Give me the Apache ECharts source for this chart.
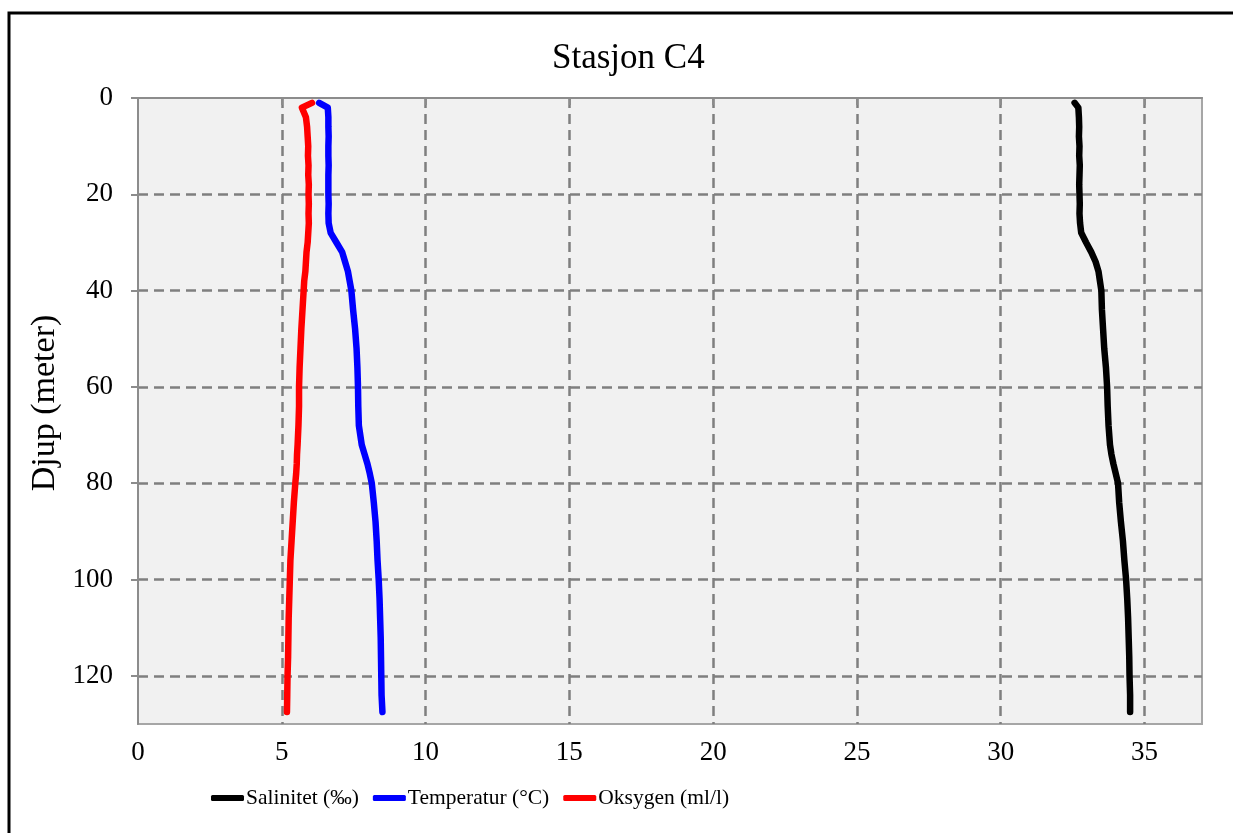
<!DOCTYPE html>
<html>
<head>
    <title>Stasjon C4</title>
    <meta charset="UTF-8">
    <script type="text/javascript" src="https://cdn.jsdelivr.net/npm/echarts@6/dist/echarts.min.js"></script>
    <style>
        html, body { margin: 0; padding: 0; background: #fff; }
        #main { width: 1233px; height: 833px; }
    </style>
</head>
<body>
<div id="main"></div>
<script type="text/javascript">
    // djup (m), felles for alle tre profilane
    var depth = [1, 2, 4, 6, 8, 10, 12, 14, 16, 18, 20, 22, 24, 26, 28, 30, 32, 34, 36, 38,
        40, 44, 48, 52, 56, 60, 64, 68, 72, 74, 76, 78, 80, 84, 88, 92, 96, 100,
        104, 108, 112, 116, 120, 124, 127.5];

    var salinitet = [32.57, 32.7, 32.72, 32.73, 32.72, 32.74, 32.73, 32.75, 32.74, 32.73, 32.74,
        32.75, 32.74, 32.76, 32.8, 32.97, 33.15, 33.3, 33.4, 33.45,
        33.5, 33.52, 33.56, 33.6, 33.66, 33.7, 33.72, 33.75, 33.8, 33.85, 33.92, 34.0, 34.08,
        34.12, 34.18, 34.25, 34.3, 34.36, 34.4, 34.43, 34.45, 34.47, 34.48, 34.5, 34.5];

    var temperatur = [6.3, 6.6, 6.62, 6.62, 6.63, 6.62, 6.62, 6.63, 6.62, 6.62, 6.62,
        6.63, 6.62, 6.63, 6.7, 6.9, 7.1, 7.2, 7.3, 7.36,
        7.42, 7.48, 7.55, 7.6, 7.63, 7.65, 7.66, 7.68, 7.78, 7.88, 7.98, 8.06, 8.13,
        8.2, 8.26, 8.3, 8.33, 8.37, 8.4, 8.42, 8.44, 8.45, 8.46, 8.47, 8.5];

    var oksygen = [6.05, 5.7, 5.84, 5.88, 5.9, 5.92, 5.91, 5.93, 5.92, 5.94, 5.93,
        5.94, 5.93, 5.94, 5.92, 5.9, 5.86, 5.84, 5.82, 5.78,
        5.76, 5.72, 5.68, 5.65, 5.62, 5.6, 5.6, 5.58, 5.55, 5.53, 5.52, 5.5, 5.47,
        5.42, 5.38, 5.34, 5.3, 5.28, 5.26, 5.24, 5.23, 5.22, 5.2, 5.19, 5.18];

    var xTicks = [0, 5, 10, 15, 20, 25, 30, 35];
    var yTicks = [0, 20, 40, 60, 80, 100, 120];

    function pairs(vals) {
        var out = [];
        for (var i = 0; i < depth.length; i++) {
            out.push([vals[i], depth[i]]);
        }
        return out;
    }

    var font = 'Liberation Serif, Times New Roman, serif';
    var gridLine = {
        show: true, showMinLine: false, showMaxLine: true,
        lineStyle: { color: '#7f7f7f', width: 2.5, type: [10, 6] }
    };

    function lineSerie(name, color, vals) {
        return {
            name: name,
            type: 'line',
            data: pairs(vals),
            showSymbol: false,
            symbol: 'none',
            color: color,
            lineStyle: { color: color, width: 6.5, cap: 'round', join: 'round' },
            animation: false
        };
    }

    var myChart = echarts.init(document.getElementById('main'));
    myChart.setOption({
        backgroundColor: '#ffffff',
        animation: false,
        title: {
            text: 'Stasjon C4',
            left: 547,
            top: 36,
            textStyle: { fontFamily: font, fontSize: 35, fontWeight: 'normal', color: '#000' }
        },
        graphic: [{
            type: 'rect',
            z: -10,
            shape: { x: 9, y: 13, width: 1300, height: 900 },
            style: { fill: 'none', stroke: '#000', lineWidth: 3 }
        }],
        legend: {
            left: 206,
            top: 782,
            itemGap: 14,
            itemWidth: 33,
            itemHeight: 6,
            icon: 'roundRect',
            data: ['Salinitet (‰)', 'Temperatur (°C)', 'Oksygen (ml/l)'],
            textStyle: { fontFamily: font, fontSize: 21.5, color: '#000', padding: [0, 0, 0, -3] }
        },
        grid: {
            left: 138,
            top: 98,
            right: 31,
            bottom: 109,
            show: true,
            backgroundColor: '#f1f1f1',
            borderColor: '#a6a6a6',
            borderWidth: 2
        },
        xAxis: {
            type: 'value',
            min: 0,
            max: 37,
            interval: 5,
            axisLine: { show: true, lineStyle: { color: '#8c8c8c', width: 2 } },
            axisTick: { show: true, length: 7, lineStyle: { color: '#8c8c8c', width: 2 }, customValues: xTicks },
            axisLabel: { margin: 15, fontFamily: font, fontSize: 27, color: '#000', customValues: xTicks },
            splitLine: gridLine
        },
        yAxis: {
            type: 'value',
            inverse: true,
            min: 0,
            max: 130,
            interval: 20,
            name: 'Djup (meter)',
            nameLocation: 'middle',
            nameRotate: 90,
            nameGap: 75,
            nameTextStyle: { fontFamily: font, fontSize: 34, color: '#000', padding: [0, 0, 0, 16] },
            axisLine: { show: true, onZero: false, lineStyle: { color: '#8c8c8c', width: 2 } },
            axisTick: { show: true, length: 7, lineStyle: { color: '#8c8c8c', width: 2 }, customValues: yTicks },
            axisLabel: { margin: 25, fontFamily: font, fontSize: 27, color: '#000', customValues: yTicks },
            splitLine: gridLine
        },
        series: [
            lineSerie('Salinitet (‰)', '#000000', salinitet),
            lineSerie('Temperatur (°C)', '#0000ff', temperatur),
            lineSerie('Oksygen (ml/l)', '#ff0000', oksygen)
        ]
    });
</script>
</body>
</html>
